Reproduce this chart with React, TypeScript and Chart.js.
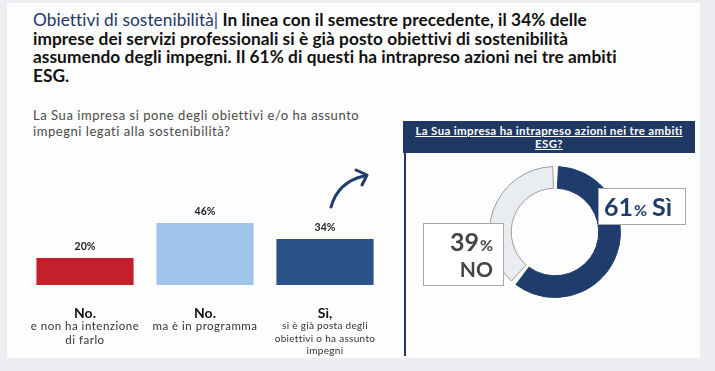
import React, { useEffect, useRef } from "react";
import { Chart, registerables } from "chart.js";

Chart.register(...registerables);

// ---- Data ----
const barCategories = ["No.", "No.", "Sì,"];
const barSubLabels = [
  ["e non ha intenzione", "di farlo"],
  ["ma è in programma"],
  ["si è già posta degli", "obiettivi o ha assunto", "impegni"],
];
const barValues = [20, 46, 34];
const barColors = ["#c3202b", "#9fc5ea", "#2b5389"];

const donutLabels = ["Sì", "NO"];
const donutValues = [61, 39];
const donutColors = ["#1f3c6c", "#e9ecf0"];
const donutBorders = ["#1f3c6c", "#9c9c9c"];

const titleLead = "Obiettivi di sostenibilità|";
const titleLines = [
  " In linea con il semestre precedente, il 34% delle",
  "imprese dei servizi professionali si è già posto obiettivi di sostenibilità",
  "assumendo degli impegni. Il 61% di questi ha intrapreso azioni nei tre ambiti",
  "ESG.",
];
const leftQuestion = [
  "La Sua impresa si pone degli obiettivi e/o ha assunto",
  "impegni legati alla sostenibilità?",
];
const rightQuestion = ["La Sua impresa ha intrapreso azioni nei tre ambiti", "ESG?"];

const FONT = "Lato, 'Open Sans', sans-serif";

function BarChart() {
  const ref = useRef<HTMLCanvasElement>(null);
  useEffect(() => {
    const labelPlugin = {
      id: "barLabels",
      afterDatasetsDraw(chart: any) {
        const ctx = chart.ctx;
        const meta = chart.getDatasetMeta(0);
        ctx.save();
        ctx.textAlign = "center";
        meta.data.forEach((bar: any, i: number) => {
          ctx.letterSpacing = "0px";
          ctx.fillStyle = "#222";
          ctx.font = `bold 10.5px ${FONT}`;
          ctx.textBaseline = "bottom";
          ctx.fillText(barValues[i] + "%", bar.x, bar.y - 6);
          const base = chart.chartArea.bottom;
          ctx.font = `bold 14px ${FONT}`;
          ctx.fillStyle = "#111";
          ctx.textBaseline = "alphabetic";
          ctx.fillText(barCategories[i], bar.x, base + 33);
          ctx.fillStyle = "#333";
          const subs = barSubLabels[i];
          subs.forEach((s, j) => {
            const three = subs.length > 2;
            const lh = three ? 12.5 : 14;
            const off = three ? 44 : 45;
            ctx.font = three ? `10px ${FONT}` : `11.5px ${FONT}`;
            ctx.letterSpacing = three ? "0.3px" : "0.5px";
            ctx.fillText(s, bar.x, base + off + j * lh);
          });
        });
        ctx.restore();
      },
    };
    const chart = new Chart(ref.current!, {
      type: "bar",
      data: {
        labels: barCategories,
        datasets: [
          {
            data: barValues,
            backgroundColor: barColors,
            categoryPercentage: 1,
            barPercentage: 0.81,
          },
        ],
      },
      options: {
        animation: false,
        responsive: false,
        layout: { padding: { top: 0, bottom: 75, left: 0, right: 0 } },
        plugins: { legend: { display: false }, tooltip: { enabled: false } },
        scales: {
          x: { display: false },
          y: { display: false, min: 0, max: 100 },
        },
      },
      plugins: [labelPlugin],
    });
    return () => chart.destroy();
  }, []);
  return (
    <canvas
      ref={ref}
      width={360}
      height={210}
      style={{ position: "absolute", left: 25, top: 150, width: 360, height: 210 }}
    />
  );
}

function DonutChart() {
  const ref = useRef<HTMLCanvasElement>(null);
  useEffect(() => {
    const boxPlugin = {
      id: "donutBoxes",
      afterDatasetsDraw(chart: any) {
        const ctx = chart.ctx;
        const arc = chart.getDatasetMeta(0).data[0];
        const cx = arc.x;
        const cy = arc.y;
        ctx.save();
        // Box for Sì
        ctx.fillStyle = "#ffffff";
        ctx.strokeStyle = "#a8a8a8";
        ctx.lineWidth = 1;
        let bx = cx + 43, by = cy - 44, bw = 87, bh = 36;
        ctx.fillRect(bx, by, bw, bh);
        ctx.strokeRect(bx + 0.5, by + 0.5, bw, bh);
        ctx.fillStyle = "#1f3c6c";
        ctx.textBaseline = "alphabetic";
        ctx.textAlign = "left";
        const big = `bold 25px ${FONT}`;
        const small = `bold 16px ${FONT}`;
        let x = bx + 6;
        const yb = by + 28;
        ctx.font = big;
        const n1 = String(donutValues[0]);
        ctx.fillText(n1, x, yb);
        x += ctx.measureText(n1).width + 1;
        ctx.font = small;
        ctx.fillText("%", x, yb);
        x += ctx.measureText("%").width + 5;
        ctx.font = big;
        ctx.fillText(donutLabels[0], x, yb);

        // Box for NO
        bx = cx - 132; by = cy - 9; bw = 80; bh = 62;
        ctx.fillStyle = "#ffffff";
        ctx.fillRect(bx, by, bw, bh);
        ctx.strokeRect(bx + 0.5, by + 0.5, bw, bh);
        ctx.fillStyle = "#444";
        const n2 = String(donutValues[1]);
        ctx.font = small;
        const pw = ctx.measureText("%").width;
        ctx.font = big;
        const nw = ctx.measureText(n2).width;
        const right = bx + bw - 10;
        ctx.fillText(n2, right - pw - 1 - nw, by + 28);
        ctx.font = small;
        ctx.fillText("%", right - pw, by + 28);
        ctx.font = `bold 21px ${FONT}`;
        ctx.textAlign = "right";
        ctx.fillText(donutLabels[1], right, by + 54);
        ctx.restore();
      },
    };
    const chart = new Chart(ref.current!, {
      type: "doughnut",
      data: {
        labels: donutLabels,
        datasets: [
          {
            data: donutValues,
            backgroundColor: donutColors,
            borderColor: donutBorders,
            borderWidth: 1,
            spacing: 3,
          },
        ],
      },
      options: {
        animation: false,
        responsive: false,
        cutout: "66%",
        rotation: 0,
        layout: { padding: { left: 79, right: 74, top: 11, bottom: 57 } },
        plugins: { legend: { display: false }, tooltip: { enabled: false } },
      },
      plugins: [boxPlugin],
    });
    return () => chart.destroy();
  }, []);
  return (
    <canvas
      ref={ref}
      width={285}
      height={200}
      style={{ position: "absolute", left: 410, top: 155, width: 285, height: 200 }}
    />
  );
}

export default function App() {
  return (
    <div
      style={{
        position: "fixed",
        left: 0,
        top: 0,
        width: 715,
        height: 371,
        background: "#eceef1",
        fontFamily: FONT,
        overflow: "hidden",
      }}
    >
      <div
        style={{
          position: "absolute",
          left: 7,
          top: 3,
          width: 693,
          height: 355,
          background: "#fdfdfd",
        }}
      />
      <div
        style={{
          position: "absolute",
          left: 33,
          top: 11,
          fontSize: 17.3,
          lineHeight: "18.7px",
          whiteSpace: "nowrap",
          color: "#111",
          fontWeight: 700,
          letterSpacing: "0.05px",
        }}
      >
        <span style={{ color: "#1f3864", fontWeight: 400 }}>{titleLead}</span>
        {titleLines.map((l, i) => (
          <React.Fragment key={i}>
            {l}
            {i < titleLines.length - 1 ? <br /> : null}
          </React.Fragment>
        ))}
      </div>
      <div
        style={{
          position: "absolute",
          left: 33,
          top: 107,
          fontSize: 13,
          lineHeight: "16px",
          color: "#4a4a4a",
          whiteSpace: "nowrap",
          letterSpacing: "0.55px",
        }}
      >
        {leftQuestion[0]}
        <br />
        {leftQuestion[1]}
      </div>
      <svg
        style={{ position: "absolute", left: 0, top: 0 }}
        width={715}
        height={371}
      >
        <path
          d="M331 207 Q338 182 364 176"
          stroke="#1f3c6c"
          strokeWidth={3}
          fill="none"
          strokeLinecap="round"
        />
        <path
          d="M356 170 L367 175 L362 185"
          stroke="#1f3c6c"
          strokeWidth={3}
          fill="none"
          strokeLinecap="round"
          strokeLinejoin="round"
        />
        <line x1={405} y1={153} x2={405} y2={356} stroke="#1f3864" strokeWidth={2} />
      </svg>
      <BarChart />
      <div
        style={{
          position: "absolute",
          left: 403,
          top: 121,
          width: 292,
          height: 32,
          background: "#1f3864",
          color: "#fff",
          fontSize: 11.5,
          lineHeight: "13px",
          fontWeight: 700,
          textAlign: "center",
          textDecoration: "underline",
          paddingTop: 3,
          boxSizing: "border-box",
          whiteSpace: "nowrap",
          letterSpacing: "0.35px",
        }}
      >
        {rightQuestion[0]}
        <br />
        {rightQuestion[1]}
      </div>
      <DonutChart />
    </div>
  );
}
